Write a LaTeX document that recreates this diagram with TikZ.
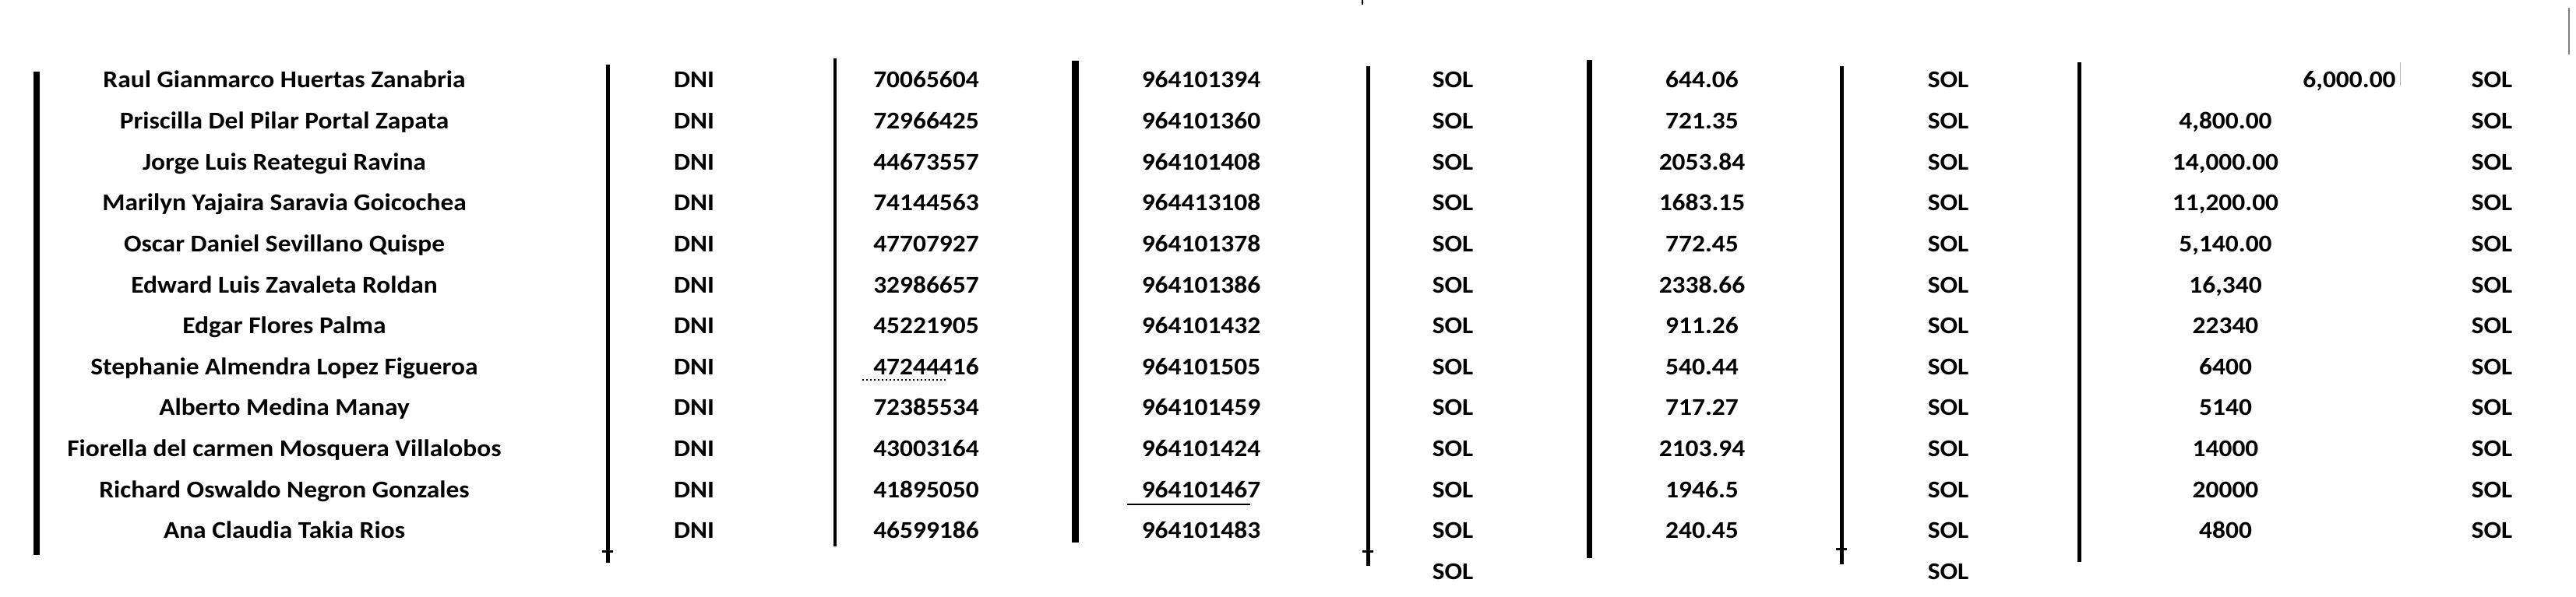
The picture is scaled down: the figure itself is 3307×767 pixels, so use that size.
\documentclass[tikz,border=0pt]{standalone}
\usepackage{fontspec}
\setmainfont{Carlito}
\usepackage{tikz}
\usetikzlibrary{calc}

\begin{document}
\begin{tikzpicture}[x=0.01cm, y=-0.01cm,
		cell/.style={anchor=base, inner sep=0pt, xscale=1.08, font=\fontsize{8.8}{10}\selectfont\bfseries},
		rule/.style={line cap=butt}]
		\useasboundingbox (0,0) rectangle (3307,767);

		\foreach \nm/\dn/\tel/\amt/\pay [count=\i] in {
			Raul Gianmarco Huertas Zanabria/70065604/964101394/644.06/{},
			Priscilla Del Pilar Portal Zapata/72966425/964101360/721.35/{4,800.00},
			Jorge Luis Reategui Ravina/44673557/964101408/2053.84/{14,000.00},
			Marilyn Yajaira Saravia Goicochea/74144563/964413108/1683.15/{11,200.00},
			Oscar Daniel Sevillano Quispe/47707927/964101378/772.45/{5,140.00},
			Edward Luis Zavaleta Roldan/32986657/964101386/2338.66/{16,340},
			Edgar Flores Palma/45221905/964101432/911.26/22340,
			Stephanie Almendra Lopez Figueroa/47244416/964101505/540.44/6400,
			Alberto Medina Manay/72385534/964101459/717.27/5140,
			Fiorella del carmen Mosquera Villalobos/43003164/964101424/2103.94/14000,
			Richard Oswaldo Negron Gonzales/41895050/964101467/1946.5/20000,
			Ana Claudia Takia Rios/46599186/964101483/240.45/4800}
		{
			\pgfmathsetmacro{\yb}{113+52.6*(\i-1)}
			\node[cell] (name-\i) at (365,\yb) {\nm};
			\node[cell] (doc-\i) at (891,\yb) {DNI};
			\node[cell] (num-\i) at (1189,\yb) {\dn};
			\node[cell] (tel-\i) at (1542,\yb) {\tel};
			\node[cell] (sola-\i) at (1865,\yb) {SOL};
			\node[cell] (amt-\i) at (2185,\yb) {\amt};
			\node[cell] (solb-\i) at (2501,\yb) {SOL};
			\node[cell] (pay-\i) at (2857,\yb) {\pay};
			\node[cell] (solc-\i) at (3199,\yb) {SOL};
		}
		\node[cell] (extra) at (3016,113) {6,000.00};
		\node[cell] (sola-13) at (1865,744) {SOL};
		\node[cell] (solb-13) at (2501,744) {SOL};

		\foreach \x/\ya/\yz/\w in {47/92/713/8, 780/83/723/5, 1072/75/702/4, 1380/78/697/9,
			1756/85/727/5, 2040/77/717/7, 2364/85/725/5, 2669/80/722/5}
			\draw[rule, line width=\w*0.1mm] (\x,\ya) -- (\x,\yz);

		\foreach \x/\y in {780/708, 1756/708, 2364/705}
			\draw[line width=0.3mm] (\x-7,\y) -- (\x+7,\y);

		\draw[line width=0.15mm] (1447,648) -- (1605,648);
		\draw[densely dotted, line width=0.15mm] (1107,488) -- (1216,488);
		\draw[line width=0.2mm] (1749,0) -- (1749,6);
		\draw[gray, line width=0.15mm] (3298,10) -- (3298,70);
		\draw[gray!60, line width=0.1mm] (3081,80) -- (3081,110);
\end{tikzpicture}
\end{document}
